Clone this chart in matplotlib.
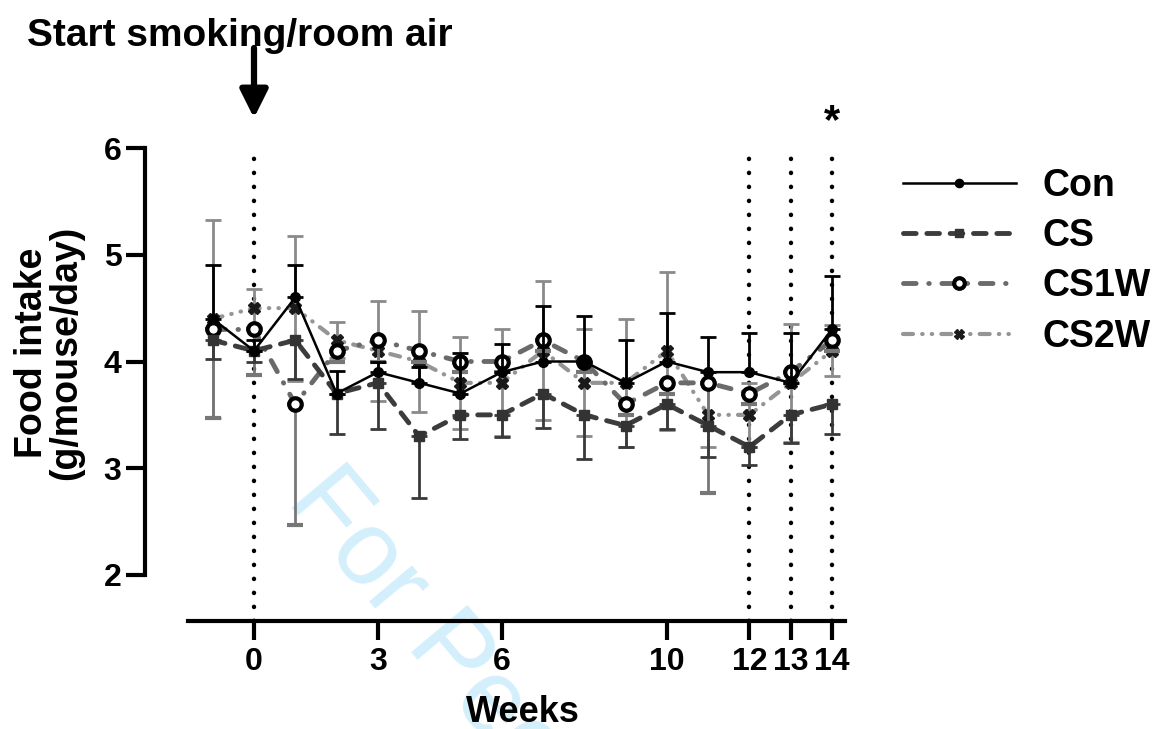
import numpy as np
import matplotlib
matplotlib.use("Agg")
import matplotlib.pyplot as plt

# weekly food intake, mean and error
weeks = [-1, 0, 1, 2, 3, 4, 5, 6, 7, 8, 9, 10, 11, 12, 13, 14]

con_mean = [4.4, 4.1, 4.6, 3.7, 3.9, 3.8, 3.7, 3.9, 4.0, 4.0, 3.8, 4.0, 3.9, 3.9, 3.8, 4.3]
con_err = [0.5, 0.1, 0.3, 0.21, 0.1, 0.15, 0.38, 0.26, 0.52, 0.43, 0.4, 0.45, 0.33, 0.37, 0.47, 0.5]

cs_mean = [4.2, 4.1, 4.2, 3.7, 3.8, 3.3, 3.5, 3.5, 3.7, 3.5, 3.4, 3.6, 3.4, 3.2, 3.5, 3.6]
cs_err = [0.18, 0.1, 0.36, 0.38, 0.43, 0.58, 0.23, 0.21, 0.32, 0.41, 0.2, 0.23, 0.29, 0.17, 0.26, 0.28]

cs1w_mean = [4.3, 4.3, 3.6, 4.1, 4.2, 4.1, 4.0, 4.0, 4.2, 4.0, 3.6, 3.8, 3.8, 3.7, 3.9, 4.2]
cs1w_err = [0.83, 0.43, 1.13, 0.1, 0.2, 0.1, 0.1, 0.1, 0.1, 0.1, 0.1, 0.1, 1.03, 0.1, 0.1, 0.1]

cs2w_mean = [4.4, 4.5, 4.5, 4.2, 4.1, 4.0, 3.8, 3.8, 4.1, 3.8, 3.8, 4.1, 3.5, 3.5, 3.8, 4.1]
cs2w_err = [0.93, 0.18, 0.68, 0.17, 0.47, 0.47, 0.43, 0.5, 0.65, 0.5, 0.6, 0.74, 0.3, 0.3, 0.55, 0.24]

xtick_weeks = [0, 3, 6, 10, 12, 13, 14]
marked_weeks = [0, 12, 13, 14]
yticks = [2, 3, 4, 5, 6]

plt.rcParams['font.family'] = ['Liberation Sans', 'DejaVu Sans']
plt.rcParams['font.weight'] = 'bold'

W, H = 1159, 729
fig = plt.figure(figsize=(W / 100, H / 100), dpi=100)

# axes box: y spine at x=145px, x spine at y=621px, y=6 at 148px
ax = fig.add_axes([145 / W, 1 - 621 / H, 700 / W, (621 - 148) / H])
px_per_week = (832 - 254) / 14
px_per_unit = (575 - 148) / 4
ax.set_xlim(-109 / px_per_week, (845 - 254) / px_per_week)
ax.set_ylim(2 - (621 - 575) / px_per_unit, 6)

for s in ['top', 'right']:
    ax.spines[s].set_visible(False)
for s in ['left', 'bottom']:
    ax.spines[s].set_linewidth(3)
ax.spines['left'].set_bounds(2, 6)
ax.spines['bottom'].set_bounds((188 - 254) / px_per_week, (845 - 254) / px_per_week)

ax.set_xticks(xtick_weeks)
ax.set_yticks(yticks)
ax.tick_params(axis='both', length=14, width=3, labelsize=23)
ax.tick_params(axis='x', pad=5)
ax.tick_params(axis='y', pad=3)
for lab in ax.get_xticklabels() + ax.get_yticklabels():
    lab.set_fontweight('bold')

fig.text(523 / W, 1 - 712 / H, 'Weeks', fontsize=26, fontweight='bold',
         ha='center', va='center')
fig.text(49 / W, 1 - 353 / H, 'Food intake\n(g/mouse/day)', fontsize=27, fontweight='bold',
         rotation=90, ha='center', va='center', linespacing=0.95)

# dotted markers of exposure weeks
ax.vlines(marked_weeks, ax.get_ylim()[0], 6, colors='black', lw=3.2,
          linestyles=(0, (0.05, 3.1)), zorder=1)
for coll in ax.collections:
    coll.set_capstyle('round')

zero = np.zeros(len(weeks))

# CS2W
ax.errorbar(weeks, cs2w_mean, yerr=cs2w_err, color='#959595', lw=3,
            dashes=(2.4, 2.2, 0.1, 2.2, 0.1, 2.2), dash_capstyle='round',
            marker='X', ms=8, mfc='#1a1a1a', mec='#1a1a1a',
            ecolor='#8a8a8a', elinewidth=2, capsize=6, capthick=2, zorder=3, label='CS2W')
# CS1W
ax.errorbar(weeks, cs1w_mean, yerr=[cs1w_err, zero], color='#6a6a6a', lw=3.5,
            dashes=(2.6, 2.6, 0.1, 2.6), dash_capstyle='round',
            marker='o', ms=9, mfc='white', mec='black', mew=3,
            ecolor='#777777', elinewidth=2, capsize=6, capthick=2, zorder=4, label='CS1W')
# CS
ax.errorbar(weeks, cs_mean, yerr=[cs_err, zero], color='#3c3c3c', lw=3.5,
            dashes=(2.6, 2.2), dash_capstyle='round',
            marker='s', ms=7, mfc='#333333', mec='#333333',
            ecolor='#3a3a3a', elinewidth=2, capsize=6, capthick=2, zorder=5, label='CS')
# Con
ax.errorbar(weeks, con_mean, yerr=[zero, con_err], color='black', lw=1.8,
            marker='o', ms=7, mfc='black', mec='black',
            ecolor='black', elinewidth=2, capsize=6, capthick=2, zorder=6, label='Con')

handles, labels = ax.get_legend_handles_labels()
handles = [h[0] for h in handles]
leg = fig.legend(handles[::-1], labels[::-1], loc='upper left',
                 bbox_to_anchor=(903 / W, 1 - 168 / H), frameon=False,
                 fontsize=27, handlelength=3.0, handletextpad=0.72,
                 labelspacing=0.38, borderpad=0, borderaxespad=0, markerscale=0.85)
for t in leg.get_texts():
    t.set_fontweight('bold')

# start arrow and title
ax.annotate('', xy=(0, 6 + (148 - 118) / px_per_unit), xytext=(0, 6 + (148 - 48) / px_per_unit),
            arrowprops=dict(arrowstyle='-|>', lw=4.5, color='black', mutation_scale=42,
                            shrinkA=0, shrinkB=0),
            annotation_clip=False)
fig.text(27 / W, 1 - 36 / H, 'Start smoking/room air', fontsize=28, fontweight='bold',
         ha='left', va='center')
ax.text(14, 6 + (148 - 122) / px_per_unit, '*', fontsize=30, fontweight='bold',
        ha='center', va='center', clip_on=False)

# faint watermark, behind everything
ax.text(285 / W, 1 - 501 / H, 'For Peer Review', transform=fig.transFigure,
        fontsize=76, fontweight='normal', color='#d4effc', rotation=-50,
        rotation_mode='anchor', ha='left', va='baseline', zorder=0, clip_on=False)

fig.savefig('out.png', dpi=100)
